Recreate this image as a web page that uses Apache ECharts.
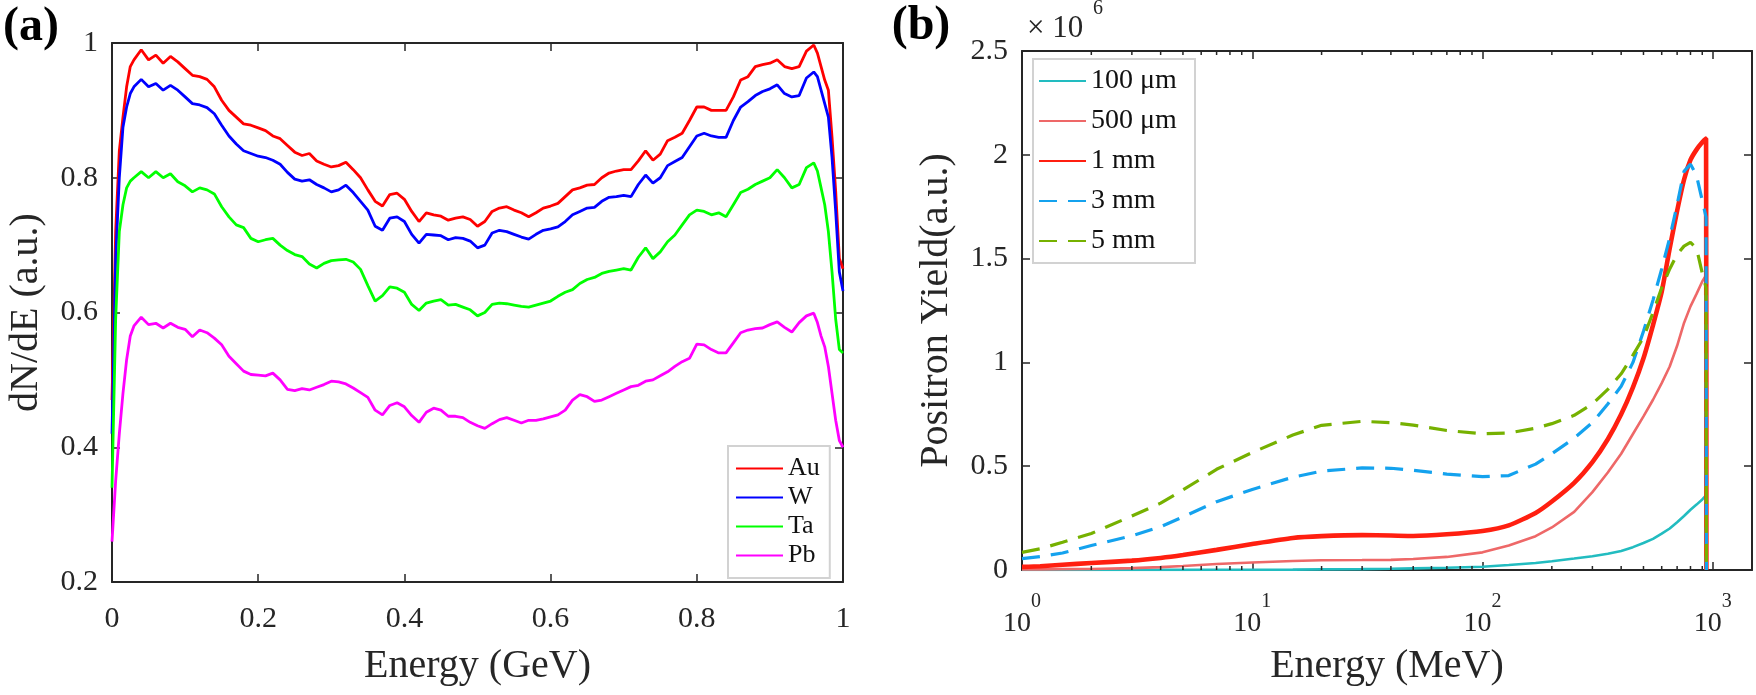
<!DOCTYPE html>
<html>
<head>
<meta charset="utf-8">
<title>Positron spectra</title>
<script src="https://cdn.jsdelivr.net/npm/echarts@6.0.0/dist/echarts.min.js"></script>
<style>
    html, body { margin: 0; padding: 0; background: #fff; }
    #chart { width: 1756px; height: 695px; }
</style>
</head>
<body>
<div id="chart"></div>
<script>
// ---- panel (a): dN/dE vs energy (GeV) ----
var energyA = [
    0, 0.005, 0.01, 0.015, 0.02, 0.025, 0.03,
    0.04, 0.05, 0.06, 0.07, 0.08, 0.09, 0.10,
    0.11, 0.12, 0.13, 0.14, 0.15, 0.16, 0.17, 0.18, 0.19, 0.20,
    0.21, 0.22, 0.23, 0.24, 0.25, 0.26, 0.27, 0.28, 0.29, 0.30,
    0.31, 0.32, 0.33, 0.34, 0.35, 0.36, 0.37, 0.38, 0.39, 0.40,
    0.41, 0.42, 0.43, 0.44, 0.45, 0.46, 0.47, 0.48, 0.49, 0.50,
    0.51, 0.52, 0.53, 0.54, 0.55, 0.56, 0.57, 0.58, 0.59, 0.60,
    0.61, 0.62, 0.63, 0.64, 0.65, 0.66, 0.67, 0.68, 0.69, 0.70,
    0.71, 0.72, 0.73, 0.74, 0.75, 0.76, 0.77, 0.78, 0.79, 0.80,
    0.81, 0.82, 0.83, 0.84, 0.85, 0.86, 0.87, 0.88, 0.89, 0.90,
    0.91, 0.92, 0.93, 0.94, 0.95, 0.96,
    0.965, 0.97, 0.975, 0.98, 0.985, 0.99, 0.995, 1
];
var au = [
    0.47, 0.72, 0.84, 0.89, 0.935, 0.965, 0.975,
    0.99, 0.975, 0.982, 0.97, 0.98, 0.972, 0.962,
    0.952, 0.95, 0.946, 0.935, 0.915, 0.9, 0.89, 0.88, 0.878, 0.874,
    0.87, 0.862, 0.858, 0.848, 0.838, 0.833, 0.836, 0.825, 0.82, 0.816,
    0.818, 0.823, 0.812, 0.8, 0.782, 0.765, 0.758, 0.775, 0.777, 0.768,
    0.75, 0.735, 0.748, 0.745, 0.743, 0.737, 0.74, 0.742, 0.738, 0.728,
    0.735, 0.75, 0.755, 0.757, 0.752, 0.748, 0.742, 0.748, 0.755, 0.758,
    0.762, 0.772, 0.782, 0.785, 0.789, 0.79, 0.8, 0.807, 0.81, 0.812,
    0.812, 0.825, 0.84, 0.826, 0.835, 0.855, 0.86, 0.866, 0.885, 0.905,
    0.905, 0.9, 0.9, 0.9, 0.92, 0.945, 0.95, 0.965, 0.968, 0.97,
    0.975, 0.965, 0.962, 0.965, 0.988, 0.997,
    0.985, 0.965, 0.945, 0.93, 0.86, 0.78, 0.68, 0.665
];
var w = [
    0.42, 0.68, 0.8, 0.875, 0.905, 0.925, 0.935,
    0.946, 0.935, 0.94, 0.93, 0.937, 0.93, 0.92,
    0.91, 0.908, 0.904, 0.895, 0.878, 0.862, 0.85, 0.84, 0.836, 0.832,
    0.83, 0.826, 0.82, 0.808, 0.798, 0.795, 0.797, 0.79, 0.785, 0.779,
    0.782, 0.789, 0.778, 0.765, 0.752, 0.728, 0.722, 0.74, 0.742, 0.735,
    0.716, 0.703, 0.716, 0.715, 0.714, 0.708, 0.711, 0.71, 0.706, 0.696,
    0.7, 0.718, 0.722, 0.72, 0.716, 0.712, 0.709, 0.716, 0.722, 0.724,
    0.727, 0.735, 0.745, 0.75, 0.755, 0.756, 0.765, 0.771, 0.772, 0.774,
    0.772, 0.79, 0.804, 0.792, 0.8, 0.818, 0.824, 0.83, 0.846, 0.862,
    0.866, 0.862, 0.86, 0.86, 0.885, 0.905, 0.913, 0.922, 0.928, 0.932,
    0.938, 0.925, 0.92, 0.922, 0.948, 0.957,
    0.95, 0.93, 0.91, 0.89, 0.83, 0.75, 0.66, 0.632
];
var ta = [
    0.34, 0.59, 0.72, 0.76, 0.785, 0.795, 0.8,
    0.809, 0.8, 0.809, 0.8, 0.806, 0.794, 0.788,
    0.779, 0.785, 0.782, 0.776, 0.757, 0.742, 0.73, 0.726, 0.71, 0.705,
    0.708, 0.71, 0.7, 0.692, 0.686, 0.683, 0.672, 0.666, 0.673, 0.677,
    0.678, 0.679, 0.675, 0.664, 0.64, 0.617, 0.625, 0.638, 0.636, 0.63,
    0.612, 0.603, 0.614, 0.617, 0.619, 0.611, 0.612, 0.608, 0.604, 0.595,
    0.6, 0.612, 0.614, 0.613, 0.611, 0.609, 0.608, 0.611, 0.614, 0.617,
    0.624, 0.63, 0.634, 0.643, 0.649, 0.652, 0.658, 0.661, 0.663, 0.665,
    0.663, 0.682, 0.696, 0.68, 0.69, 0.705, 0.715, 0.73, 0.745, 0.752,
    0.75, 0.745, 0.748, 0.742, 0.76, 0.778, 0.783, 0.79, 0.795, 0.8,
    0.812, 0.8, 0.785, 0.79, 0.815, 0.822,
    0.81, 0.785, 0.76, 0.72, 0.66, 0.59, 0.545, 0.54
];
var pb = [
    0.26, 0.35, 0.42, 0.48, 0.53, 0.565, 0.58,
    0.593, 0.582, 0.584, 0.577, 0.584, 0.578, 0.575,
    0.564, 0.574, 0.57, 0.562, 0.552, 0.535, 0.524, 0.513, 0.508, 0.507,
    0.506, 0.51, 0.5, 0.486, 0.484, 0.487, 0.485, 0.489, 0.493, 0.498,
    0.497, 0.494, 0.488, 0.481, 0.474, 0.455, 0.448, 0.462, 0.466, 0.46,
    0.447, 0.437, 0.452, 0.458, 0.455, 0.446, 0.446, 0.444, 0.437, 0.432,
    0.428, 0.435, 0.441, 0.444, 0.44, 0.436, 0.44, 0.44, 0.442, 0.445,
    0.448, 0.455, 0.47, 0.478, 0.475, 0.468, 0.47, 0.475, 0.48, 0.485,
    0.49, 0.492, 0.498, 0.5, 0.506, 0.512, 0.52, 0.527, 0.532, 0.553,
    0.552, 0.545, 0.54, 0.54, 0.555, 0.57, 0.574, 0.576, 0.577, 0.582,
    0.586, 0.578, 0.571, 0.585, 0.595, 0.599,
    0.585, 0.565, 0.549, 0.52, 0.48, 0.44, 0.41, 0.40
];

// ---- panel (b): positron yield (x10^6) vs energy (MeV) ----
var energyB = [
    1, 1.2, 1.5, 2, 3, 4, 5, 7, 10, 15,
    20, 30, 40, 50, 70, 100, 130, 170, 200, 250,
    300, 350, 400, 450, 500, 550, 600, 650, 700, 750,
    800, 850, 900, 935, 938
];
var t100um = [
    0, 0, 0, 0, 0, 0.0005, 0.0005, 0.001, 0.001, 0.002,
    0.003, 0.004, 0.006, 0.008, 0.011, 0.016, 0.024, 0.034, 0.042, 0.055,
    0.066, 0.078, 0.092, 0.11, 0.13, 0.15, 0.175, 0.2, 0.23, 0.26,
    0.29, 0.315, 0.34, 0.36, 0
];
var t500um = [
    0.003, 0.003, 0.004, 0.005, 0.009, 0.014, 0.019, 0.029, 0.036, 0.043,
    0.047, 0.048, 0.049, 0.053, 0.063, 0.085, 0.118, 0.163, 0.205, 0.28,
    0.375, 0.47, 0.56, 0.655, 0.74, 0.82, 0.9, 0.98, 1.08, 1.19,
    1.27, 1.33, 1.39, 1.42, 0
];
var t1mm = [
    0.015, 0.018, 0.025, 0.034, 0.045, 0.058, 0.072, 0.097, 0.125, 0.154,
    0.163, 0.168, 0.166, 0.164, 0.172, 0.188, 0.215, 0.275, 0.33, 0.42,
    0.52, 0.63, 0.75, 0.88, 1.02, 1.18, 1.34, 1.55, 1.73, 1.88,
    1.975, 2.025, 2.06, 2.078, 0
];
var t3mm = [
    0.055, 0.065, 0.082, 0.118, 0.165, 0.208, 0.256, 0.329, 0.388, 0.447,
    0.476, 0.492, 0.49, 0.48, 0.462, 0.45, 0.455, 0.51, 0.56, 0.635,
    0.71, 0.8, 0.885, 1.0, 1.15, 1.3, 1.45, 1.6, 1.76, 1.92,
    1.955, 1.9, 1.78, 1.7, 0
];
var t5mm = [
    0.085, 0.102, 0.134, 0.176, 0.26, 0.322, 0.386, 0.485, 0.566, 0.65,
    0.697, 0.716, 0.71, 0.698, 0.672, 0.656, 0.66, 0.683, 0.705, 0.745,
    0.8, 0.87, 0.945, 1.035, 1.12, 1.24, 1.36, 1.45, 1.52, 1.56,
    1.578, 1.55, 1.43, 1.36, 0
];
// minor ticks of the log axis
var minorTicksB = [2, 3, 4, 5, 6, 7, 8, 9, 20, 30, 40, 50, 60, 70, 80, 90, 200, 300, 400, 500, 600, 700, 800, 900];

var FONT = 'Liberation Serif';
var INK = '#262626';

function pairs(xs, ys) {
    return xs.map(function (x, i) { return [x, ys[i]]; });
}
function decimalLabel(v) {
    return String(Math.round(v * 10) / 10);
}
function powLabel(v) {
    var e = Math.round(Math.log(v) / Math.LN10);
    if (Math.abs(Math.pow(10, e) - v) > 1e-6 * v) return '';
    return '{b|10}{s|' + e + '}';
}

var axisLine = { show: true, onZero: false, lineStyle: { color: INK, width: 2 } };
var tick = { show: true, inside: true, length: 8, lineStyle: { color: INK, width: 1.5 } };
var noSplit = { show: false };
var legendText = function (size, lh, width) {
    return { fontSize: size, lineHeight: lh, width: width, color: '#111', fontFamily: FONT };
};

var chart = echarts.init(document.getElementById('chart'), null, { renderer: 'canvas' });

var option = {
    animation: false,
    backgroundColor: '#fff',
    textStyle: { fontFamily: FONT },
    grid: [
        { left: 112, top: 43, width: 731, height: 539, outerBoundsMode: 'none' },
        { left: 1022, top: 51, width: 730, height: 519, outerBoundsMode: 'none' }
    ],
    xAxis: [
        {
            gridIndex: 0, type: 'value', position: 'bottom',
            min: 0, max: 1, interval: 0.2,
            axisLine: axisLine, axisTick: tick, splitLine: noSplit,
            axisLabel: { margin: 22, color: INK, fontSize: 30, fontFamily: FONT, formatter: decimalLabel },
            name: 'Energy (GeV)', nameLocation: 'middle', nameGap: 64, nameMoveOverlap: false,
            nameTextStyle: { color: INK, fontSize: 40, fontFamily: FONT }
        },
        {
            gridIndex: 0, type: 'value', position: 'top',
            min: 0, max: 1, interval: 0.2,
            axisLine: axisLine, axisTick: tick, splitLine: noSplit,
            axisLabel: { show: false }
        },
        {
            gridIndex: 1, type: 'log', logBase: 10, position: 'bottom',
            min: 1, max: 1480,
            axisLine: axisLine, axisTick: tick, splitLine: noSplit,
            axisLabel: {
                margin: 39, color: INK, fontFamily: FONT, formatter: powLabel,
                showMaxLabel: false,
                rich: {
                    b: { fontSize: 28, lineHeight: 30, color: INK, fontFamily: FONT },
                    s: { fontSize: 20, lineHeight: 20, color: INK, fontFamily: FONT, padding: [0, 0, 44, 0] }
                }
            },
            name: 'Energy (MeV)', nameLocation: 'middle', nameGap: 76, nameMoveOverlap: false,
            nameTextStyle: { color: INK, fontSize: 40, fontFamily: FONT }
        },
        {
            gridIndex: 1, type: 'log', logBase: 10, position: 'top',
            min: 1, max: 1480,
            axisLine: axisLine, axisTick: tick, splitLine: noSplit,
            axisLabel: { show: false }
        }
    ],
    yAxis: [
        {
            gridIndex: 0, type: 'value', position: 'left',
            min: 0.2, max: 1, interval: 0.2,
            axisLine: axisLine, axisTick: tick, splitLine: noSplit,
            axisLabel: { margin: 14, color: INK, fontSize: 30, fontFamily: FONT, formatter: decimalLabel },
            name: 'dN/dE (a.u.)', nameLocation: 'middle', nameGap: 66, nameMoveOverlap: false,
            nameTextStyle: { color: INK, fontSize: 40, fontFamily: FONT }
        },
        {
            gridIndex: 0, type: 'value', position: 'right',
            min: 0.2, max: 1, interval: 0.2,
            axisLine: axisLine, axisTick: tick, splitLine: noSplit,
            axisLabel: { show: false }
        },
        {
            gridIndex: 1, type: 'value', position: 'left',
            min: 0, max: 2.5, interval: 0.5,
            axisLine: axisLine, axisTick: tick, splitLine: noSplit,
            axisLabel: { margin: 14, color: INK, fontSize: 30, fontFamily: FONT, formatter: decimalLabel },
            name: 'Positron Yield(a.u.)', nameLocation: 'middle', nameGap: 66, nameMoveOverlap: false,
            nameTextStyle: { color: INK, fontSize: 40, fontFamily: FONT }
        },
        {
            gridIndex: 1, type: 'value', position: 'right',
            min: 0, max: 2.5, interval: 0.5,
            axisLine: axisLine, axisTick: tick, splitLine: noSplit,
            axisLabel: { show: false }
        }
    ],
    legend: [
        {
            data: ['Au', 'W', 'Ta', 'Pb'],
            orient: 'vertical', left: 728, top: 446,
            padding: [8, 10, 8, 7], itemGap: 0, itemWidth: 47, itemHeight: 2,
            itemStyle: { opacity: 0 },
            textStyle: legendText(26, 29, 30),
            backgroundColor: '#fff', borderColor: '#d2d2d2', borderWidth: 2, borderRadius: 0,
            selectedMode: false
        },
        {
            data: ['100 μm', '500 μm', '1 mm', '3 mm', '5 mm'],
            orient: 'vertical', left: 1033, top: 59,
            padding: [7, 9, 7, 5], itemGap: 10, itemWidth: 47, itemHeight: 2,
            itemStyle: { opacity: 0 },
            textStyle: legendText(28, 30, 95),
            backgroundColor: '#fff', borderColor: '#d2d2d2', borderWidth: 2, borderRadius: 0,
            selectedMode: false
        }
    ],
    graphic: [
        {
            type: 'text', x: 31, y: 28, silent: true,
            style: { text: '(a)', fontSize: 48, fontWeight: 'bold', fontFamily: FONT, fill: '#000', align: 'center', verticalAlign: 'middle' }
        },
        {
            type: 'text', x: 921, y: 27, silent: true,
            style: { text: '(b)', fontSize: 48, fontWeight: 'bold', fontFamily: FONT, fill: '#000', align: 'center', verticalAlign: 'middle' }
        },
        {
            type: 'text', x: 1027, y: 29, silent: true,
            style: { text: '× 10', fontSize: 31, fontFamily: FONT, fill: INK, align: 'left', verticalAlign: 'middle' }
        },
        {
            type: 'text', x: 1093, y: 9, silent: true,
            style: { text: '6', fontSize: 20, fontFamily: FONT, fill: INK, align: 'left', verticalAlign: 'middle' }
        }
    ],
    series: [
        // panel (a)
        { name: 'Au', type: 'line', xAxisIndex: 0, yAxisIndex: 0, data: pairs(energyA, au), symbol: 'none', lineStyle: { color: '#ff0000', width: 2.8 }, itemStyle: { color: '#ff0000' } },
        { name: 'W', type: 'line', xAxisIndex: 0, yAxisIndex: 0, data: pairs(energyA, w), symbol: 'none', lineStyle: { color: '#0000ff', width: 2.8 }, itemStyle: { color: '#0000ff' } },
        { name: 'Ta', type: 'line', xAxisIndex: 0, yAxisIndex: 0, data: pairs(energyA, ta), symbol: 'none', lineStyle: { color: '#00ff00', width: 2.8 }, itemStyle: { color: '#00ff00' } },
        { name: 'Pb', type: 'line', xAxisIndex: 0, yAxisIndex: 0, data: pairs(energyA, pb), symbol: 'none', lineStyle: { color: '#ff00ff', width: 2.8 }, itemStyle: { color: '#ff00ff' } },
        // panel (b)
        { name: '100 μm', type: 'line', xAxisIndex: 2, yAxisIndex: 2, data: pairs(energyB, t100um), symbol: 'none', lineStyle: { color: '#22bcc0', width: 2.6 }, itemStyle: { color: '#22bcc0' } },
        { name: '500 μm', type: 'line', xAxisIndex: 2, yAxisIndex: 2, data: pairs(energyB, t500um), symbol: 'none', lineStyle: { color: '#ee6868', width: 2.6 }, itemStyle: { color: '#ee6868' } },
        { name: '1 mm', type: 'line', xAxisIndex: 2, yAxisIndex: 2, data: pairs(energyB, t1mm), symbol: 'none', smooth: 0.2, lineStyle: { color: '#ff1f10', width: 4.6 }, itemStyle: { color: '#ff1f10' } },
        { name: '3 mm', type: 'line', xAxisIndex: 2, yAxisIndex: 2, data: pairs(energyB, t3mm), symbol: 'none', lineStyle: { color: '#14a2ee', width: 3.2, type: [18, 11] }, itemStyle: { color: '#14a2ee' } },
        { name: '5 mm', type: 'line', xAxisIndex: 2, yAxisIndex: 2, data: pairs(energyB, t5mm), symbol: 'none', lineStyle: { color: '#76b100', width: 3.2, type: [18, 11] }, itemStyle: { color: '#76b100' } },
        // minor ticks on the log axis (top and bottom)
        {
            type: 'custom', xAxisIndex: 2, yAxisIndex: 2, silent: true, z: 5,
            data: minorTicksB.map(function (v) { return [v, 0]; }),
            renderItem: function (params, api) {
                var x = api.coord([api.value(0), 0])[0];
                var cs = params.coordSys;
                var ls = { stroke: INK, lineWidth: 1.5 };
                return {
                    type: 'group',
                    children: [
                        { type: 'line', shape: { x1: x, y1: cs.y + cs.height, x2: x, y2: cs.y + cs.height - 4 }, style: ls },
                        { type: 'line', shape: { x1: x, y1: cs.y, x2: x, y2: cs.y + 4 }, style: ls }
                    ]
                };
            }
        }
    ]
};

chart.setOption(option);
</script>
</body>
</html>
